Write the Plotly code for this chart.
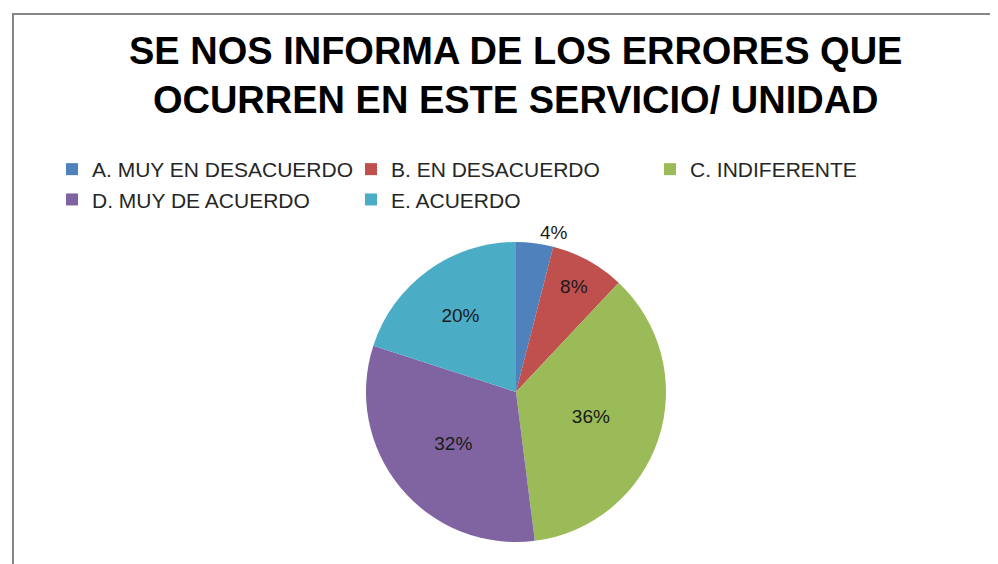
import plotly.graph_objects as go

categories = ["A. MUY EN DESACUERDO", "B. EN DESACUERDO", "C. INDIFERENTE",
              "D. MUY DE ACUERDO", "E. ACUERDO"]
values = [4, 8, 36, 32, 20]
colors = ["#4F81BD", "#C0504D", "#9BBB59", "#8064A2", "#4BACC6"]
title_text = "SE NOS INFORMA DE LOS ERRORES QUE<br>OCURREN EN ESTE SERVICIO/ UNIDAD"

W, H = 998, 564
FONT = "Liberation Sans, Arial, sans-serif"

fig = go.Figure(go.Pie(
    labels=categories,
    values=values,
    sort=False,
    direction="clockwise",
    rotation=0,
    marker=dict(colors=colors, line=dict(color="rgba(0,0,0,0)", width=0)),
    textinfo="percent",
    texttemplate="%{percent:.0%}",
    textposition=["outside", "inside", "inside", "inside", "inside"],
    insidetextorientation="horizontal",
    textfont=dict(family=FONT, size=19, color="#1a1a1a"),
    outsidetextfont=dict(family=FONT, size=19, color="#1a1a1a"),
    insidetextfont=dict(family=FONT, size=19, color="#1a1a1a"),
    domain=dict(x=[358 / W, 658 / W], y=[1 - 534 / H, 1 - 234 / H]),
    showlegend=True,
    hoverinfo="label+percent",
))

fig.update_layout(
    width=W, height=H,
    margin=dict(l=0, r=0, t=0, b=0),
    paper_bgcolor="white",
    plot_bgcolor="white",
    annotations=[dict(
        text="<b>" + title_text + "</b>",
        xref="paper", yref="paper",
        x=508 / W, xanchor="center",
        y=1 - 68 / H, yanchor="middle",
        showarrow=False,
        font=dict(family=FONT, size=38, color="#000000"),
    )],
    legend=dict(
        orientation="h",
        x=44 / W, xanchor="left",
        y=1 - 141 / H, yanchor="top",
        entrywidth=254, entrywidthmode="pixels",
        font=dict(family=FONT, size=21, color="#262626"),
        itemwidth=30,
        bgcolor="rgba(0,0,0,0)",
    ),
    shapes=[dict(
        type="rect", xref="paper", yref="paper",
        x0=5 / W, x1=1.05, y0=-0.05, y1=1 - 6 / H,
        line=dict(color="#868686", width=2),
        fillcolor="rgba(0,0,0,0)", layer="below",
    )],
)

fig.write_html("out.html")
